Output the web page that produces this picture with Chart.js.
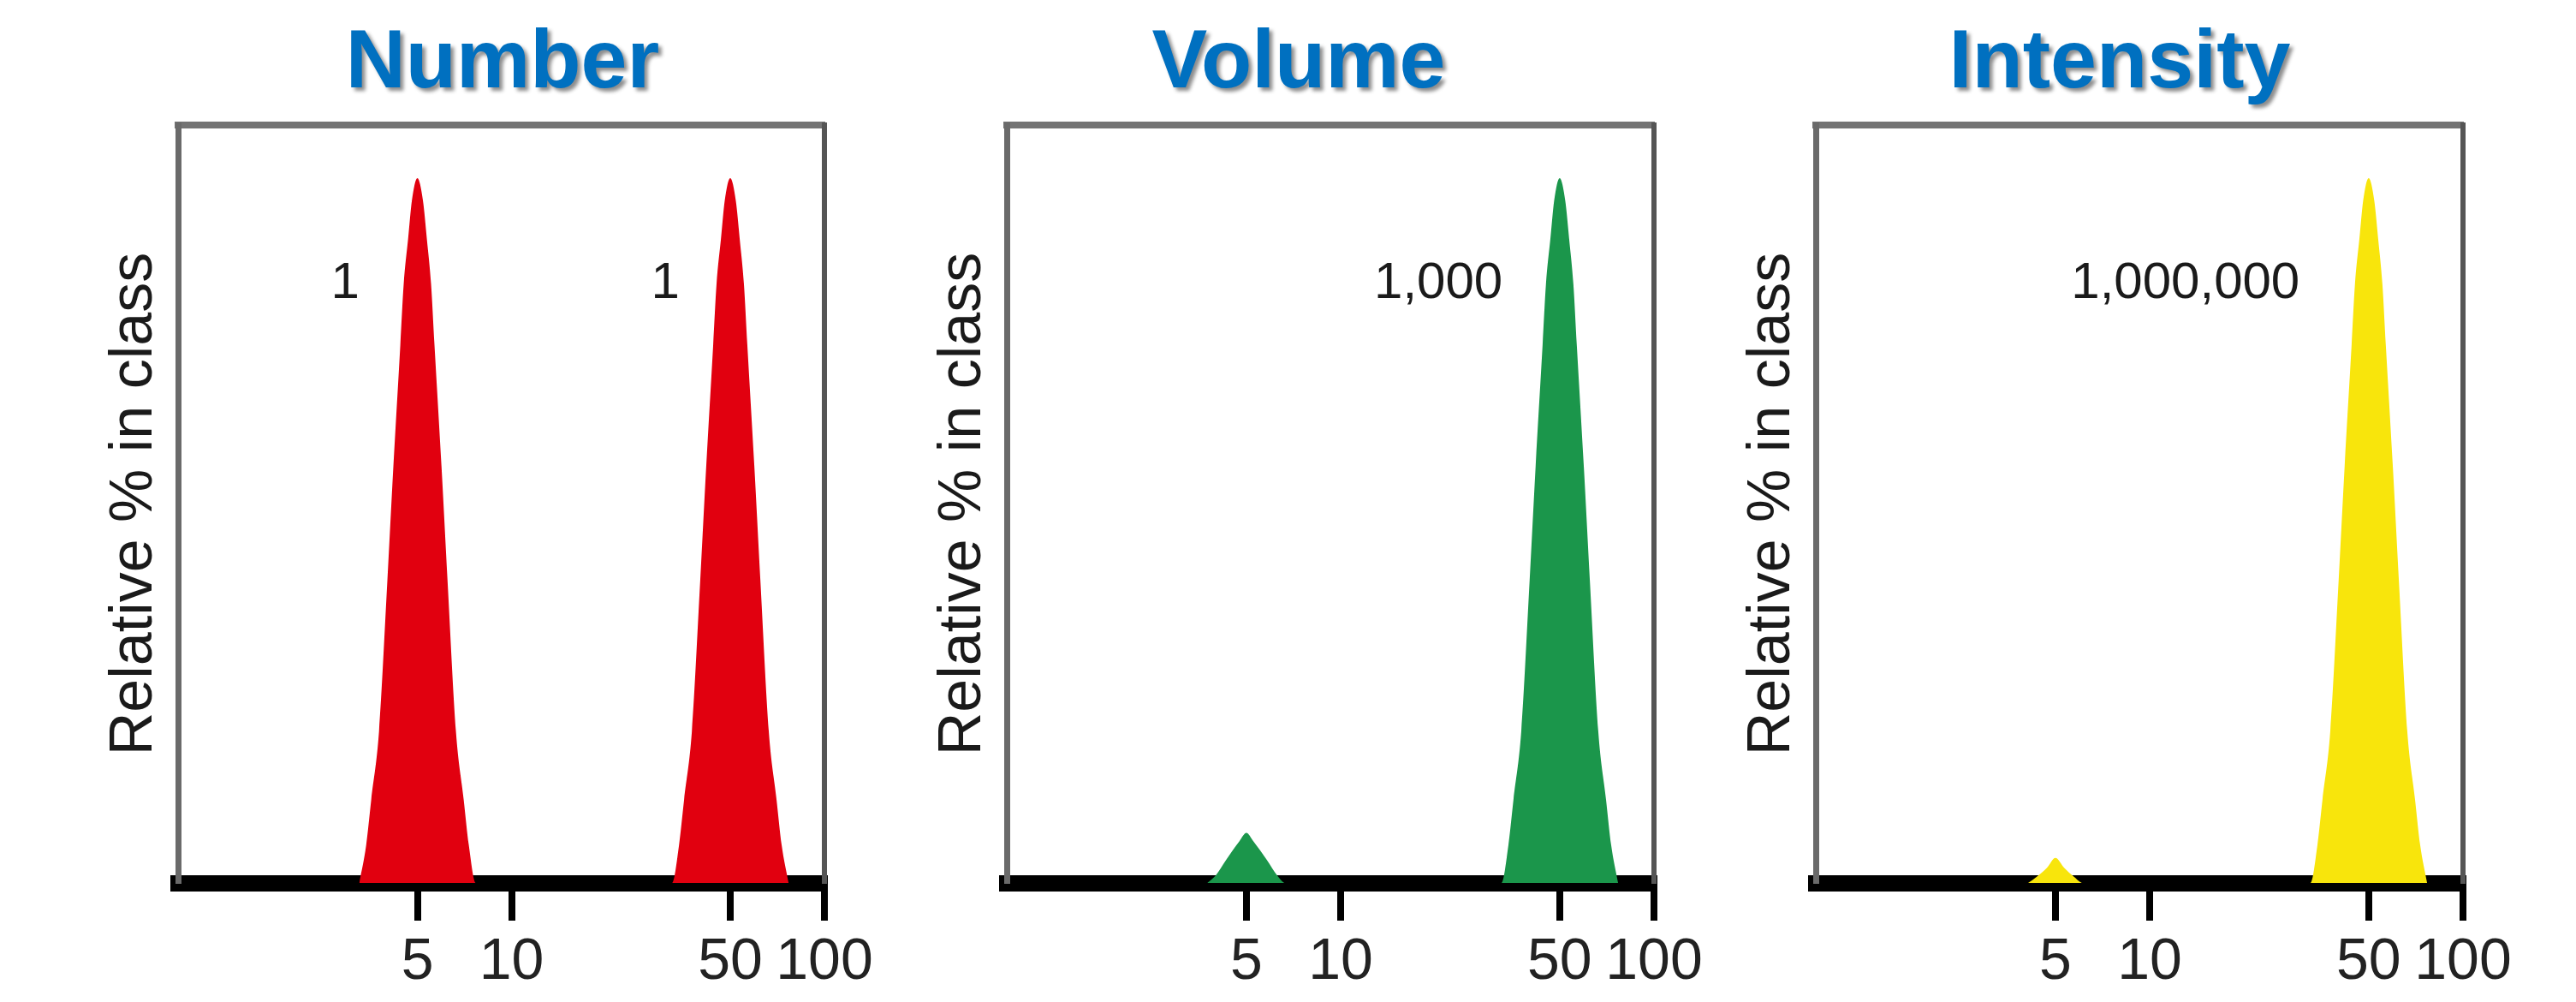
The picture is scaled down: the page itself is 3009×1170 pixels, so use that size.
<!DOCTYPE html>
<html>
<head>
<meta charset="utf-8">
<script src="https://cdn.jsdelivr.net/npm/chart.js@4.4.1/dist/chart.umd.min.js"></script>
<style>
  html, body { margin: 0; padding: 0; background: #fff; }
  body { width: 3009px; height: 1170px; position: relative; overflow: hidden; }
  canvas { position: absolute; top: 0; }
  .title {
    position: absolute; top: 20px; transform: translateX(-50%);
    font: bold 97px "Liberation Sans", Arial, sans-serif; line-height: 97px;
    color: #0070c0; white-space: nowrap;
    text-shadow: 4px 4px 4px rgba(0, 0, 0, 0.45);
  }
</style>
</head>
<body>
<div class="title" style="left:587px">Number</div>
<div class="title" style="left:1517px">Volume</div>
<div class="title" style="left:2476px">Intensity</div>
<canvas id="chartNumber" width="1053" height="1170" style="left:0px"></canvas>
<canvas id="chartVolume" width="1054" height="1170" style="left:968px"></canvas>
<canvas id="chartIntensity" width="1054" height="1170" style="left:1913px"></canvas>
<script>
// particle size (nm, log axis) and relative % in class
const xTicks = [5, 10, 50, 100];

const numberX = [3.26, 3.43, 3.56, 3.77, 4.01, 4.19, 4.41, 4.52, 4.67, 4.8, 5, 5.21, 5.36, 5.53, 5.67, 5.97, 6.24, 6.64, 7.03, 7.3, 7.68,
                 32.6, 34.3, 35.6, 37.7, 40.1, 41.9, 44.1, 45.2, 46.7, 48, 50, 52.1, 53.6, 55.3, 56.7, 59.7, 62.4, 66.4, 70.3, 73, 76.8];
const numberY = [0, 5, 11, 20, 40, 55, 71, 79, 85, 90, 93, 90, 85, 79, 71, 55, 40, 20, 11, 5, 0,
                 0, 5, 11, 20, 40, 55, 71, 79, 85, 90, 93, 90, 85, 79, 71, 55, 40, 20, 11, 5, 0];

const volumeX = [3.75, 3.99, 4.3, 4.75, 5, 5.26, 5.82, 6.27, 6.66,
                 32.6, 34.3, 35.6, 37.7, 40.1, 41.9, 44.1, 45.2, 46.7, 48, 50, 52.1, 53.6, 55.3, 56.7, 59.7, 62.4, 66.4, 70.3, 73, 76.8];
const volumeY = [0, 1, 3, 5.5, 6.6, 5.5, 3, 1, 0,
                 0, 5, 11, 20, 40, 55, 71, 79, 85, 90, 93, 90, 85, 79, 71, 55, 40, 20, 11, 5, 0];

const intensityX = [4.09, 4.35, 4.7, 5, 5.33, 5.74, 6.12,
                    32.6, 34.3, 35.6, 37.7, 40.1, 41.9, 44.1, 45.2, 46.7, 48, 50, 52.1, 53.6, 55.3, 56.7, 59.7, 62.4, 66.4, 70.3, 73, 76.8];
const intensityY = [0, 0.8, 2, 3.3, 2, 0.8, 0,
                    0, 5, 11, 20, 40, 55, 71, 79, 85, 90, 93, 90, 85, 79, 71, 55, 40, 20, 11, 5, 0];

// relative particle counts written next to the peaks
const numberNotes = [{ text: '1', x: 2.94, y: 79 }, { text: '1', x: 31, y: 79 }];
const volumeNotes = [{ text: '1,000', x: 20.5, y: 79 }];
const intensityNotes = [{ text: '1,000,000', x: 13, y: 79 }];

const peakNotes = {
  id: 'peakNotes',
  afterDatasetsDraw(chart, _args, opts) {
    const { ctx, scales } = chart;
    ctx.save();
    ctx.font = '60px "Liberation Sans", Arial, sans-serif';
    ctx.fillStyle = '#1a1a1a';
    ctx.textAlign = 'center';
    ctx.textBaseline = 'middle';
    (opts.items || []).forEach((n) => {
      ctx.fillText(n.text, scales.x.getPixelForValue(n.x), scales.y.getPixelForValue(n.y));
    });
    ctx.restore();
  }
};

function makePanel(id, xs, ys, color, notes) {
  const canvas = document.getElementById(id);
  return new Chart(canvas.getContext('2d'), {
    type: 'line',
    data: {
      datasets: [{
        data: xs.map((x, i) => ({ x, y: ys[i] })),
        backgroundColor: color,
        borderWidth: 0,
        pointRadius: 0,
        fill: 'origin',
        cubicInterpolationMode: 'monotone'
      }]
    },
    plugins: [peakNotes],
    options: {
      responsive: false,
      animation: false,
      layout: { padding: { top: 146, right: 90, bottom: 0, left: 0 } },
      plugins: {
        legend: { display: false },
        tooltip: { enabled: false },
        peakNotes: { items: notes }
      },
      scales: {
        x: {
          type: 'logarithmic',
          position: 'bottom',
          min: 0.859,
          max: 100,
          z: 1,
          afterBuildTicks: (s) => { s.ticks = xTicks.map((v) => ({ value: v })); },
          afterFit: (s) => { s.height = 139; s.paddingLeft = 0; s.paddingRight = 0; },
          grid: { display: true, drawOnChartArea: false, drawTicks: true, tickLength: 44, lineWidth: 8, tickWidth: 8, tickColor: '#000' },
          border: { display: true, color: '#000', width: 19 },
          ticks: {
            autoSkip: false,
            maxRotation: 0,
            padding: 8,
            color: '#222',
            font: { family: '"Liberation Sans", Arial, sans-serif', size: 68 },
            callback: (v) => String(v)
          }
        },
        xTop: {
          type: 'linear',
          position: 'top',
          afterFit: (s) => { s.height = 0; },
          ticks: { display: false },
          grid: { display: false },
          border: { display: true, color: '#747474', width: 8 }
        },
        y: {
          type: 'linear',
          position: 'left',
          min: 0,
          max: 100,
          afterFit: (s) => { s.width = 208; },
          ticks: { display: false },
          grid: { display: false },
          border: { display: true, color: '#6a6a6a', width: 7 },
          title: {
            display: true,
            text: 'Relative % in class',
            color: '#1a1a1a',
            font: { family: '"Liberation Sans", Arial, sans-serif', size: 70 },
            padding: { top: 116, bottom: 0 }
          }
        },
        yRight: {
          type: 'linear',
          position: 'right',
          min: 0,
          max: 100,
          afterFit: (s) => { s.width = 0; },
          ticks: { display: false },
          grid: { display: false },
          border: { display: true, color: '#555', width: 6 }
        }
      }
    }
  });
}

makePanel('chartNumber', numberX, numberY, '#e1000f', numberNotes);
makePanel('chartVolume', volumeX, volumeY, '#1b964b', volumeNotes);
makePanel('chartIntensity', intensityX, intensityY, '#f8e50c', intensityNotes);
</script>
</body>
</html>
